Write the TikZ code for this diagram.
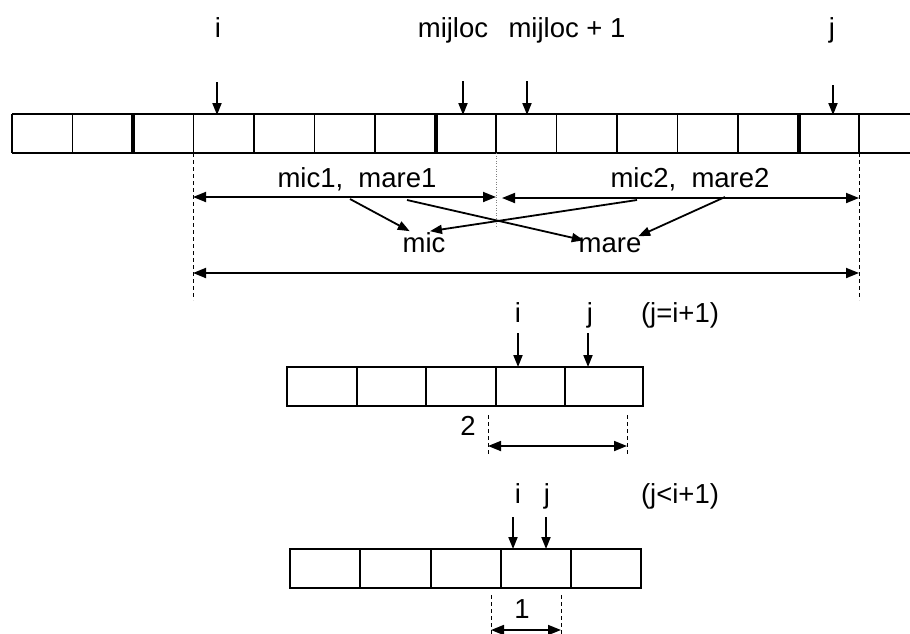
\documentclass[tikz,border=0pt]{standalone}
\usepackage{fontspec}
\setmainfont{Liberation Sans}
\usetikzlibrary{arrows.meta}

\begin{document}
\begin{tikzpicture}[x=1pt,y=-1pt,line width=1.8pt,
        tip/.style={-{Triangle[length=12pt,width=9pt]}},
        span/.style={{Triangle[length=13pt,width=10pt]}-{Triangle[length=13pt,width=10pt]}},
        guide/.style={line width=0.9pt,dash pattern=on 4pt off 3pt},
        lbl/.style={anchor=base,inner sep=0pt,font=\fontsize{27.5}{32}\selectfont}]
    \useasboundingbox (0,0) rectangle (910,633);
    \coordinate (top) at (0,115);
    \coordinate (l) at (193,153);
    \coordinate (r) at (859,153);
    \coordinate (m) at (496,153);

    % the whole vector, open to the right
    \draw (12,114) -- (910,114) (12,153) -- (910,153);
    \foreach \k in {0,...,14}
        \draw ({12+60.5*\k},114) -- ({12+60.5*\k},153);
    \foreach \k in {2,7,13}
        \draw[line width=4pt] ({12+60.5*\k},114) -- ({12+60.5*\k},153);

    \node[lbl] (i) at (218,37) {i};
    \node[lbl] (mij) at (453,37) {mijloc};
    \node[lbl] (mij1) at (567,37) {mijloc + 1};
    \node[lbl] (j) at (832,37) {j};
    \foreach \x/\y [count=\n] in {217/82,463/81,527/81,833/85}
        \draw[tip] (\x,\y) coordinate (p\n) -- (p\n |- top);

    % the two halves and the whole
    \draw[guide] (l) -- ++(0,147);
    \draw[guide] (r) -- ++(0,147);
    \draw[line width=0.6pt,gray,dotted] (m) -- ++(0,75);
    \draw[span] (l |- 0,197) -- (m |- 0,197);
    \draw[span] (502,198) -- (r |- 0,198);
    \draw[span] (l |- 0,273) -- (r |- 0,273);

    \node[lbl] (half1) at (357,187) {mic1,\ \ mare1};
    \node[lbl] (half2) at (690,187) {mic2,\ \ mare2};
    \node[lbl] (mic) at (424,252) {mic};
    \node[lbl] (mare) at (610,252) {mare};
    \draw[tip] (350,199) -- ([xshift=8pt]mic.north west);
    \draw[tip] (637,200) -- ([xshift=6pt]mic.north);
    \draw[tip] (407,200) -- ([xshift=6pt,yshift=-4pt]mare.north west);
    \draw[tip] (725,197) -- ([xshift=-4pt]mare.north east);

    % case j=i+1
    \node[lbl] (i2) at (518,322) {i};
    \node[lbl] (j2) at (590,322) {j};
    \node[lbl] (c2) at (680,322) {(j=i+1)};
    \draw[tip] (518,333) -- (518,367);
    \draw[tip] (588,333) -- (588,367);
    \draw (287,367) rectangle (643,406);
    \foreach \x in {357,426,496,565}
        \draw (\x,367) -- (\x,406);
    \draw[guide] (488,415) coordinate (a2) -- ++(0,40);
    \draw[guide] (627,415) coordinate (b2) -- ++(0,40);
    \draw[span] (a2 |- 0,446) -- (b2 |- 0,446);
    \node[lbl] (two) at (468,435) {2};

    % case j<i+1
    \node[lbl] (i3) at (518,503) {i};
    \node[lbl] (j3) at (547,503) {j};
    \node[lbl] (c3) at (680,503) {(j<i+1)};
    \draw[tip] (513,517) -- (513,549);
    \draw[tip] (546,517) -- (546,549);
    \draw (290,549) rectangle (641,588);
    \foreach \x in {360,431,501,571}
        \draw (\x,549) -- (\x,588);
    \draw[guide] (491,595) coordinate (a3) -- ++(0,40);
    \draw[guide] (561,595) coordinate (b3) -- ++(0,40);
    \draw[span] (a3 |- 0,630) -- (b3 |- 0,630);
    \node[lbl] (one) at (522,618) {1};
\end{tikzpicture}
\end{document}
